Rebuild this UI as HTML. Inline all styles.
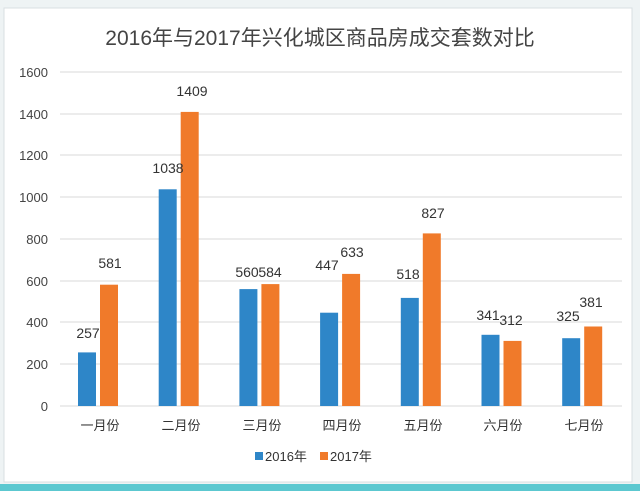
<!DOCTYPE html>
<html><head><meta charset="utf-8"><style>
body{margin:0;width:640px;height:491px;background:#fff;overflow:hidden;font-family:"Liberation Sans","Noto Sans CJK SC",sans-serif}
</style></head><body>
<svg width="640" height="491" xmlns="http://www.w3.org/2000/svg" font-family="Liberation Sans, Noto Sans CJK SC, sans-serif">
<rect x="0" y="0" width="640" height="491" fill="#eef3f4"/>
<rect x="4" y="8" width="628" height="474" fill="#fff" stroke="#d8dfe2"/>
<rect x="0" y="484" width="640" height="7" fill="#5cc8d0"/>
<text x="320" y="45" font-size="21" fill="#444" text-anchor="middle">2016年与2017年兴化城区商品房成交套数对比</text>
<g stroke="#d9d9d9" stroke-width="1">
<line x1="60" y1="72" x2="622" y2="72"/><line x1="60" y1="114" x2="622" y2="114"/>
<line x1="60" y1="155" x2="622" y2="155"/><line x1="60" y1="197" x2="622" y2="197"/>
<line x1="60" y1="239" x2="622" y2="239"/><line x1="60" y1="281" x2="622" y2="281"/>
<line x1="60" y1="322" x2="622" y2="322"/><line x1="60" y1="364" x2="622" y2="364"/>
<line x1="60" y1="406" x2="622" y2="406"/>
</g>
<g font-size="13" fill="#444" text-anchor="end">
<text x="48" y="77">1600</text><text x="48" y="119">1400</text><text x="48" y="160">1200</text>
<text x="48" y="202">1000</text><text x="48" y="244">800</text><text x="48" y="286">600</text>
<text x="48" y="327">400</text><text x="48" y="369">200</text><text x="48" y="411">0</text>
</g>
<g fill="#2e86c8">
<rect x="78" y="352.4" width="18" height="53.6"/>
<rect x="158.7" y="189.3" width="18" height="216.7"/>
<rect x="239.4" y="289.1" width="18" height="116.9"/>
<rect x="320.1" y="312.7" width="18" height="93.3"/>
<rect x="400.8" y="297.9" width="18" height="108.1"/>
<rect x="481.5" y="334.8" width="18" height="71.2"/>
<rect x="562.2" y="338.2" width="18" height="67.8"/>
</g>
<g fill="#f07a2a">
<rect x="100" y="284.7" width="18" height="121.3"/>
<rect x="180.7" y="111.9" width="18" height="294.1"/>
<rect x="261.4" y="284.1" width="18" height="121.9"/>
<rect x="342.1" y="273.9" width="18" height="132.1"/>
<rect x="422.8" y="233.4" width="18" height="172.6"/>
<rect x="503.5" y="340.9" width="18" height="65.1"/>
<rect x="584.2" y="326.5" width="18" height="79.5"/>
</g>
<g font-size="14" fill="#333" text-anchor="middle">
<text x="88" y="338">257</text><text x="110" y="268">581</text>
<text x="168" y="173">1038</text><text x="192" y="96">1409</text>
<text x="247" y="277">560</text><text x="270" y="277">584</text>
<text x="327" y="270">447</text><text x="352" y="257">633</text>
<text x="408" y="279">518</text><text x="433" y="218">827</text>
<text x="488" y="320">341</text><text x="511" y="325">312</text>
<text x="568" y="321">325</text><text x="591" y="307">381</text>
</g>
<g font-size="13" fill="#333" text-anchor="middle">
<text x="100" y="430">一月份</text><text x="181" y="430">二月份</text><text x="262" y="430">三月份</text>
<text x="342" y="430">四月份</text><text x="423" y="430">五月份</text><text x="503" y="430">六月份</text><text x="584" y="430">七月份</text>
</g>
<rect x="255" y="452" width="8" height="8" fill="#2e86c8"/>
<text x="265" y="461" font-size="13" fill="#333">2016年</text>
<rect x="320" y="452" width="8" height="8" fill="#f07a2a"/>
<text x="330" y="461" font-size="13" fill="#333">2017年</text>
</svg>
</body></html>
